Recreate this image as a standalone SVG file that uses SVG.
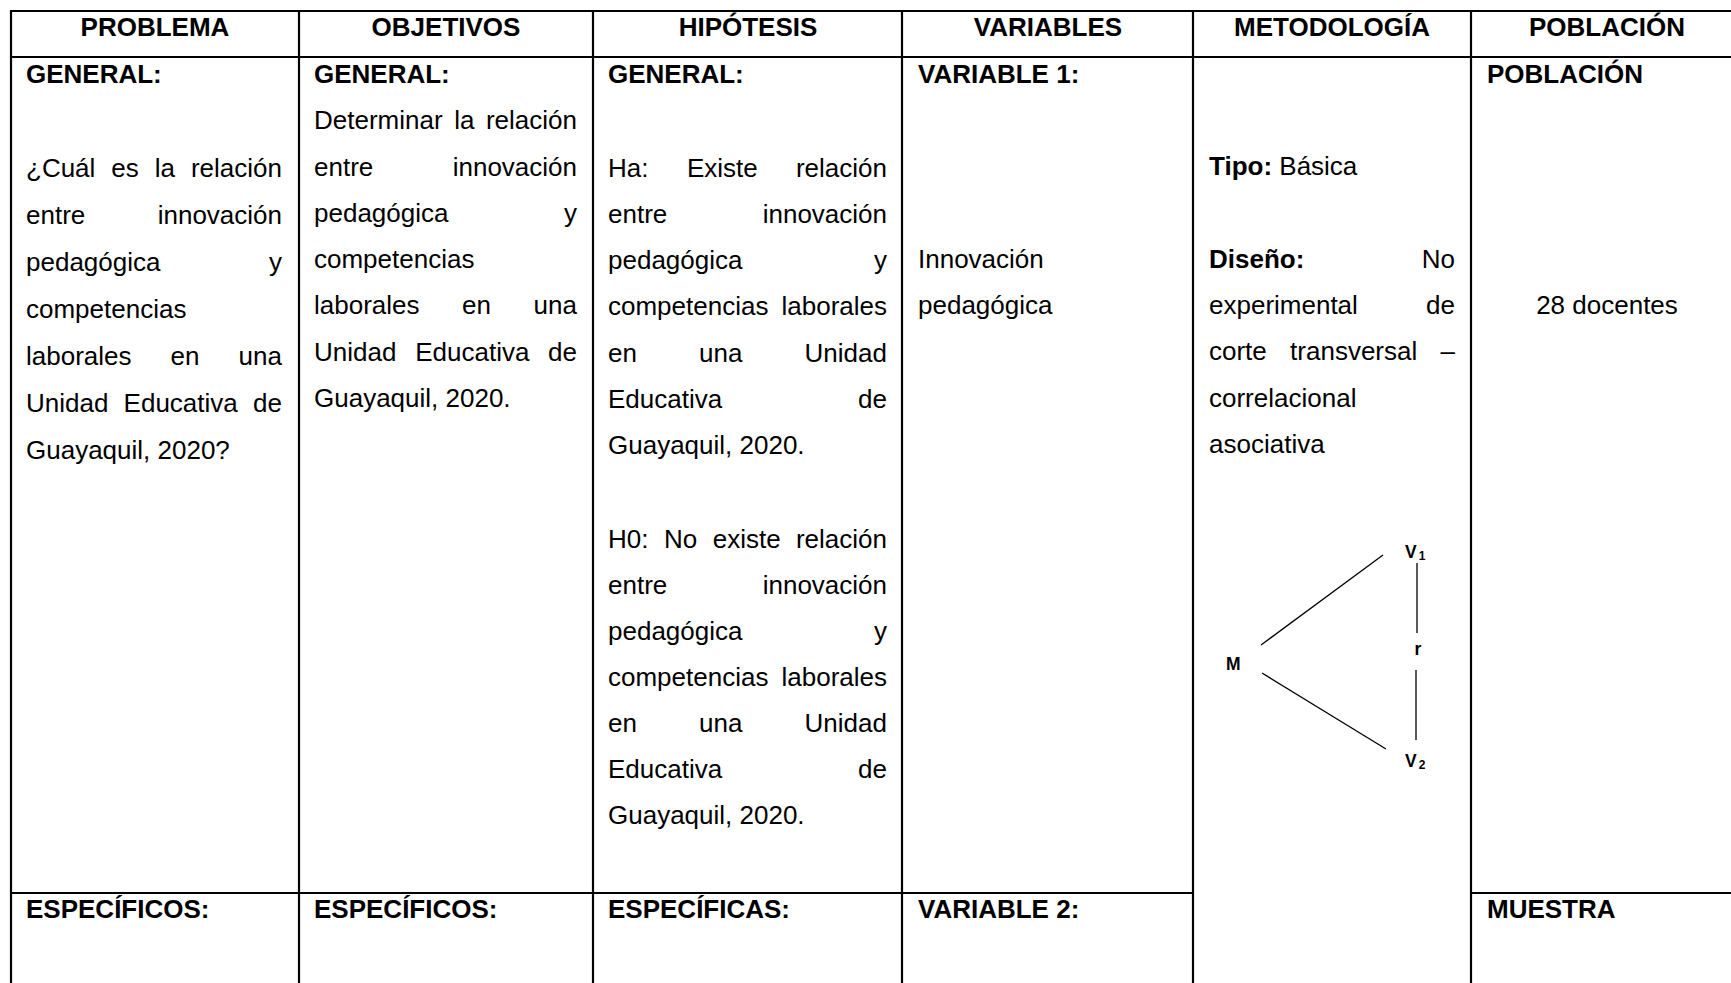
<svg xmlns="http://www.w3.org/2000/svg" width="1731" height="983" viewBox="0 0 1731 983">
<style>
text{font-family:"Liberation Sans",Arial,sans-serif;font-size:26px;fill:#000}
.h{font-weight:bold;text-anchor:middle}
.b{font-weight:bold}
.e{text-anchor:end}
.m{text-anchor:middle}
.g line{stroke:#000;stroke-width:2.2}
.c line{stroke:#000;stroke-width:1.3}
.d{font-weight:bold;font-size:17.5px}
.s{font-weight:bold;font-size:12px}
</style>
<rect width="1731" height="983" fill="#fff"/>
<g id="grid" class="g">
<line x1="10" y1="11" x2="1731" y2="11"/>
<line x1="10" y1="57" x2="1731" y2="57"/>
<line x1="10" y1="893" x2="1193" y2="893"/>
<line x1="1471" y1="893" x2="1731" y2="893"/>
<line x1="11" y1="10" x2="11" y2="983"/>
<line x1="299" y1="10" x2="299" y2="983"/>
<line x1="593" y1="10" x2="593" y2="983"/>
<line x1="902" y1="10" x2="902" y2="983"/>
<line x1="1193" y1="10" x2="1193" y2="983"/>
<line x1="1471" y1="10" x2="1471" y2="983"/>
</g>
<g id="headers">
<text class="h" x="155" y="36">PROBLEMA</text>
<text class="h" x="446" y="36">OBJETIVOS</text>
<text class="h" x="748" y="36">HIPÓTESIS</text>
<text class="h" x="1048" y="36">VARIABLES</text>
<text class="h" x="1332" y="36">METODOLOGÍA</text>
<text class="h" x="1607" y="36">POBLACIÓN</text>
</g>
<g id="problema">
<text class="b" x="26" y="83">GENERAL:</text>
<text y="177"><tspan x="26">¿Cuál</tspan><tspan x="111.3">es</tspan><tspan x="154.8">la</tspan></text>
<text class="e" x="282" y="177">relación</text>
<text x="26" y="224">entre</text><text class="e" x="282" y="224">innovación</text>
<text x="26" y="271">pedagógica</text><text class="e" x="282" y="271">y</text>
<text x="26" y="318">competencias</text>
<text y="365"><tspan x="26">laborales</tspan><tspan x="170.6">en</tspan></text><text class="e" x="282" y="365">una</text>
<text y="412"><tspan x="26">Unidad</tspan><tspan x="123.6">Educativa</tspan></text><text class="e" x="282" y="412">de</text>
<text x="26" y="459">Guayaquil, 2020?</text>
<text class="b" x="26" y="918">ESPECÍFICOS:</text>
</g>
<g id="objetivos">
<text class="b" x="314" y="83">GENERAL:</text>
<text y="129"><tspan x="314">Determinar</tspan><tspan x="454.2">la</tspan></text><text class="e" x="577" y="129">relación</text>
<text x="314" y="176">entre</text><text class="e" x="577" y="176">innovación</text>
<text x="314" y="222">pedagógica</text><text class="e" x="577" y="222">y</text>
<text x="314" y="268">competencias</text>
<text y="314"><tspan x="314">laborales</tspan><tspan x="462.1">en</tspan></text><text class="e" x="577" y="314">una</text>
<text y="361"><tspan x="314">Unidad</tspan><tspan x="415.2">Educativa</tspan></text><text class="e" x="577" y="361">de</text>
<text x="314" y="407">Guayaquil, 2020.</text>
<text class="b" x="314" y="918">ESPECÍFICOS:</text>
</g>
<g id="hipotesis">
<text class="b" x="608" y="83">GENERAL:</text>
<text y="177"><tspan x="608">Ha:</tspan><tspan x="686.9">Existe</tspan></text><text class="e" x="887" y="177">relación</text>
<text x="608" y="223">entre</text><text class="e" x="887" y="223">innovación</text>
<text x="608" y="269">pedagógica</text><text class="e" x="887" y="269">y</text>
<text x="608" y="315">competencias</text><text class="e" x="887" y="315">laborales</text>
<text y="362"><tspan x="608">en</tspan><tspan x="699.1">una</tspan></text><text class="e" x="887" y="362">Unidad</text>
<text x="608" y="408">Educativa</text><text class="e" x="887" y="408">de</text>
<text x="608" y="454">Guayaquil, 2020.</text>
<text y="548"><tspan x="608">H0:</tspan><tspan x="664">No</tspan><tspan x="712.7">existe</tspan></text><text class="e" x="887" y="548">relación</text>
<text x="608" y="594">entre</text><text class="e" x="887" y="594">innovación</text>
<text x="608" y="640">pedagógica</text><text class="e" x="887" y="640">y</text>
<text x="608" y="686">competencias</text><text class="e" x="887" y="686">laborales</text>
<text y="732"><tspan x="608">en</tspan><tspan x="699.1">una</tspan></text><text class="e" x="887" y="732">Unidad</text>
<text x="608" y="778">Educativa</text><text class="e" x="887" y="778">de</text>
<text x="608" y="824">Guayaquil, 2020.</text>
<text class="b" x="608" y="918">ESPECÍFICAS:</text>
</g>
<g id="variables">
<text class="b" x="918" y="83">VARIABLE 1:</text>
<text x="918" y="268">Innovación</text>
<text x="918" y="314">pedagógica</text>
<text class="b" x="918" y="918">VARIABLE 2:</text>
</g>
<g id="metodologia">
<text x="1209" y="175"><tspan class="b">Tipo:</tspan> Básica</text>
<text class="b" x="1209" y="268">Diseño:</text><text class="e" x="1455" y="268">No</text>
<text x="1209" y="314">experimental</text><text class="e" x="1455" y="314">de</text>
<text y="360"><tspan x="1209">corte</tspan><tspan x="1290.1">transversal</tspan></text><text class="e" x="1455" y="360">–</text>
<text x="1209" y="407">correlacional</text>
<text x="1209" y="453">asociativa</text>
</g>
<g id="poblacion">
<text class="b" x="1487" y="83">POBLACIÓN</text>
<text class="m" x="1607" y="314">28 docentes</text>
<text class="b" x="1487" y="918">MUESTRA</text>
</g>
<g id="node-M"><text class="d" x="1226" y="670">M</text></g>
<g id="node-V1"><text class="d" x="1405" y="558">V<tspan class="s" dx="2" dy="2">1</tspan></text></g>
<g id="node-r"><text class="d m" x="1418" y="655">r</text></g>
<g id="node-V2"><text class="d" x="1405" y="767">V<tspan class="s" dx="2" dy="2">2</tspan></text></g>
<g id="connectors" class="c">
<line x1="1261" y1="645" x2="1383" y2="555"/>
<line x1="1262" y1="673" x2="1386" y2="749"/>
<line x1="1417" y1="563" x2="1417" y2="633"/>
<line x1="1416" y1="670" x2="1416" y2="740"/>
</g>
</svg>
